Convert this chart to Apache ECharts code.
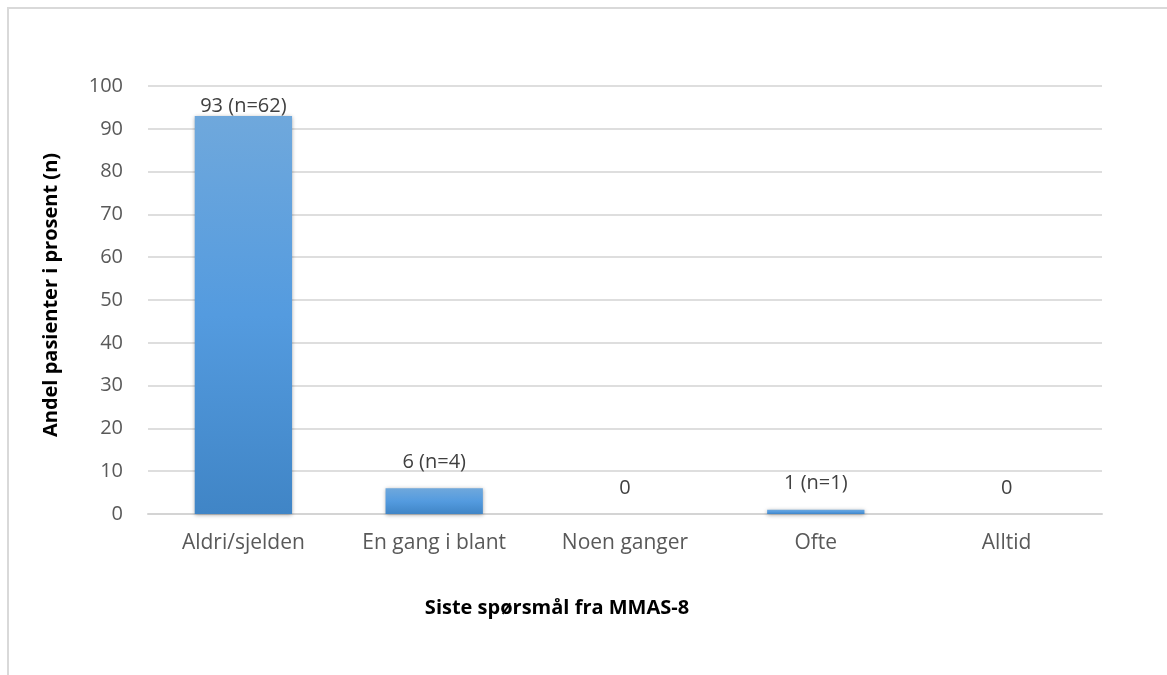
<!DOCTYPE html>
<html>
<head>
<meta charset="utf-8">
<script src="https://cdn.jsdelivr.net/npm/echarts@6/dist/echarts.min.js"></script>
<style>
  html, body { margin: 0; padding: 0; background: #ffffff; }
  #chart { width: 1167px; height: 675px; }
</style>
</head>
<body>
<div id="chart"></div>
<script>
// Answers to the last MMAS-8 question, share of patients in percent
const categories = ['Aldri/sjelden', 'En gang i blant', 'Noen ganger', 'Ofte', 'Alltid'];
const percentValues = [93, 6, 0, 1, 0];
const patientCounts = [62, 4, 0, 1, 0];
const yTicks = { min: 0, max: 100, step: 10 };
const yAxisTitle = 'Andel pasienter i prosent (n)';
const xAxisTitle = 'Siste spørsmål fra MMAS-8';

const FONT = '"Open Sans", Lato, sans-serif';

const barFill = new echarts.graphic.LinearGradient(0, 0, 0, 1, [
  { offset: 0, color: '#6fa8dc' },
  { offset: 0.5, color: '#549bdf' },
  { offset: 1, color: '#4085c6' }
]);

const seriesData = percentValues.map((v, i) => ({
  value: v,
  label: { distance: i === 0 ? 0 : 16 }
}));

const chart = echarts.init(document.getElementById('chart'), null, { renderer: 'canvas' });

chart.setOption({
  backgroundColor: '#ffffff',
  animation: false,
  grid: { left: 148, right: 65, top: 86, bottom: 161 },
  xAxis: {
    type: 'category',
    data: categories,
    axisLine: { show: true, lineStyle: { color: '#d4d4d4', width: 2 } },
    axisTick: { show: false },
    axisLabel: { color: '#595959', fontSize: 21, fontFamily: FONT, margin: 19 }
  },
  yAxis: {
    type: 'value',
    min: yTicks.min,
    max: yTicks.max,
    interval: yTicks.step,
    axisLine: { show: false },
    axisTick: { show: false },
    axisLabel: { color: '#595959', fontSize: 20, fontFamily: FONT, margin: 25 },
    splitLine: { lineStyle: { color: '#dedede', width: 2 } }
  },
  graphic: [
    {
      type: 'rect',
      shape: { x: 8, y: 8, width: 1200, height: 700 },
      style: { fill: 'none', stroke: '#d9d9d9', lineWidth: 2 },
      silent: true
    },
    {
      type: 'text',
      x: 51,
      y: 295,
      rotation: Math.PI / 2,
      style: {
        text: yAxisTitle,
        fill: '#000000',
        font: 'bold 20px ' + FONT,
        textAlign: 'center',
        textVerticalAlign: 'middle'
      }
    },
    {
      type: 'text',
      x: 557,
      y: 608,
      style: {
        text: xAxisTitle,
        fill: '#000000',
        font: 'bold 20px ' + FONT,
        textAlign: 'center',
        textVerticalAlign: 'middle'
      }
    }
  ],
  series: [{
    type: 'bar',
    data: seriesData,
    barWidth: '51%',
    itemStyle: {
      color: barFill,
      shadowColor: 'rgba(0,0,0,0.35)',
      shadowBlur: 4,
      shadowOffsetY: 1
    },
    label: {
      show: true,
      position: 'top',
      color: '#404040',
      fontSize: 20,
      fontFamily: FONT,
      formatter: p => patientCounts[p.dataIndex] > 0
        ? p.value + ' (n=' + patientCounts[p.dataIndex] + ')'
        : String(p.value)
    }
  }]
});
</script>
</body>
</html>
